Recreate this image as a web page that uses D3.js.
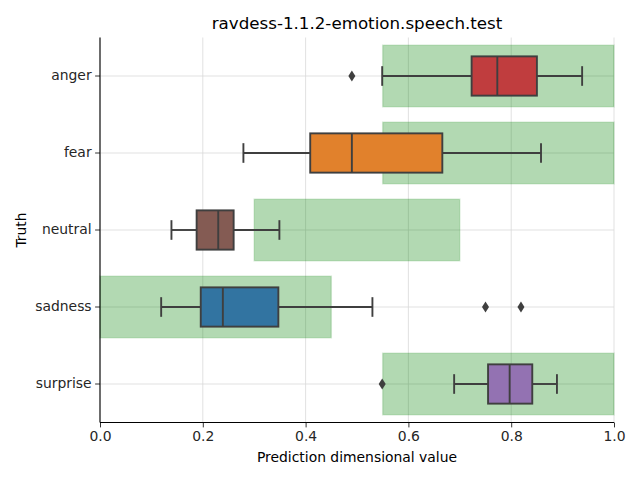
<!DOCTYPE html>
<html><head><meta charset="utf-8">
<script src="https://cdn.jsdelivr.net/npm/d3@7"></script>
<style>body{margin:0;background:#fff}svg{font-family:"DejaVu Sans",sans-serif}</style>
</head><body>
<script>
const categories = ["anger","fear","neutral","sadness","surprise"];
const colors = ["#c03d3e","#e1812c","#845b53","#3274a1","#9372b2"];
const whiskerLow = [0.549,0.279,0.139,0.119,0.689];
const q1 = [0.723,0.409,0.188,0.196,0.755];
const median = [0.773,0.490,0.230,0.239,0.797];
const q3 = [0.850,0.666,0.260,0.347,0.841];
const whiskerHigh = [0.938,0.858,0.349,0.530,0.889];
const outliers = [[0.490],[],[],[0.750,0.819],[0.549]];
const rangeLow = [0.55,0.55,0.30,0.0,0.55];
const rangeHigh = [1.0,1.0,0.70,0.45,1.0];
const xTicks = [0,0.2,0.4,0.6,0.8,1.0];
const title = "ravdess-1.1.2-emotion.speech.test";
const xLabel = "Prediction dimensional value";
const yLabel = "Truth";

const W=640,H=480, L=100,R=614,T=37.5,B=422.5;
const svg=d3.select("body").append("svg").attr("width",W).attr("height",H);
const x=d3.scaleLinear().domain([0,1]).range([L,R]);
const y=d3.scaleBand().domain(categories).range([T,B]).padding(0);
const bw=y.bandwidth();

// grid
svg.append("g").selectAll("line").data(xTicks).join("line")
  .attr("x1",d=>x(d)).attr("x2",d=>x(d)).attr("y1",T).attr("y2",B)
  .attr("stroke","#d9d9d9").attr("stroke-width",0.8);
svg.append("g").selectAll("line").data(categories).join("line")
  .attr("x1",L).attr("x2",R).attr("y1",d=>y(d)+bw/2).attr("y2",d=>y(d)+bw/2)
  .attr("stroke","#d9d9d9").attr("stroke-width",0.8);

// green expected ranges
svg.append("g").selectAll("rect").data(categories).join("rect")
  .attr("x",(d,i)=>x(rangeLow[i])).attr("width",(d,i)=>x(rangeHigh[i])-x(rangeLow[i]))
  .attr("y",d=>y(d)+bw*0.1).attr("height",bw*0.8)
  .attr("fill","green").attr("fill-opacity",0.3)
  .attr("stroke","green").attr("stroke-opacity",0.15).attr("stroke-width",1.5);

// boxes
const bh=bw*0.51, lc="#3f3f3f", lw=1.9;
const g=svg.append("g");
categories.forEach((c,i)=>{
  const cy=y(c)+bw/2;
  g.append("line").attr("x1",x(whiskerLow[i])).attr("x2",x(q1[i])).attr("y1",cy).attr("y2",cy).attr("stroke",lc).attr("stroke-width",lw);
  g.append("line").attr("x1",x(q3[i])).attr("x2",x(whiskerHigh[i])).attr("y1",cy).attr("y2",cy).attr("stroke",lc).attr("stroke-width",lw);
  [whiskerLow[i],whiskerHigh[i]].forEach(v=>{
    g.append("line").attr("x1",x(v)).attr("x2",x(v)).attr("y1",cy-bh/4).attr("y2",cy+bh/4).attr("stroke",lc).attr("stroke-width",lw);
  });
  g.append("rect").attr("x",x(q1[i])).attr("width",x(q3[i])-x(q1[i])).attr("y",cy-bh/2).attr("height",bh)
    .attr("fill",colors[i]).attr("stroke",lc).attr("stroke-width",lw);
  g.append("line").attr("x1",x(median[i])).attr("x2",x(median[i])).attr("y1",cy-bh/2).attr("y2",cy+bh/2).attr("stroke",lc).attr("stroke-width",lw);
  outliers[i].forEach(v=>{
    const px=x(v);
    g.append("path").attr("d",`M${px},${cy-5.5}L${px+3.5},${cy}L${px},${cy+5.5}L${px-3.5},${cy}Z`).attr("fill",lc);
  });
});

// axes
const xa=svg.append("g").attr("transform",`translate(0,${B})`)
  .call(d3.axisBottom(x).tickValues(xTicks).tickFormat(d3.format(".1f")).tickSizeOuter(0).tickSize(4.9).tickPadding(3.5));
const ya=svg.append("g").attr("transform",`translate(${L},0)`)
  .call(d3.axisLeft(y).tickSizeOuter(0).tickSize(4.9).tickPadding(3.5));
[xa,ya].forEach(a=>{
  a.selectAll("text").attr("font-size","13.9px").attr("fill","#262626").attr("font-family","DejaVu Sans");
  a.selectAll("line").attr("stroke","#000").attr("stroke-width",0.8);
  a.select(".domain").attr("stroke","#000").attr("stroke-width",1.1);
});
xa.select(".domain").attr("d",`M${L},0H${R}`);
ya.select(".domain").attr("d",`M0,${T}V${B}`);

svg.append("text").attr("x",(L+R)/2).attr("y",29).attr("text-anchor","middle")
  .attr("font-size","16.7px").attr("fill","#000").text(title);
svg.append("text").attr("x",(L+R)/2).attr("y",462).attr("text-anchor","middle")
  .attr("font-size","13.9px").attr("fill","#000").text(xLabel);
svg.append("text").attr("transform",`translate(26,${(T+B)/2}) rotate(-90)`).attr("text-anchor","middle")
  .attr("font-size","13.9px").attr("fill","#000").text(yLabel);
</script>
</body></html>
